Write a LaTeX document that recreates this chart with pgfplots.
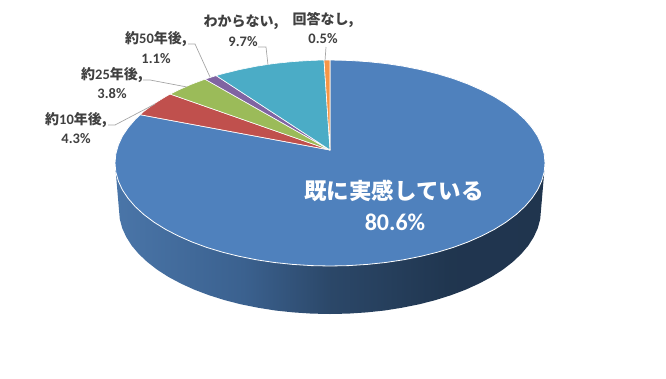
\documentclass[border=0pt]{standalone}
\usepackage{fontspec}
\usepackage{pgfplots}
\pgfplotsset{compat=1.18}
\setmainfont{Carlito}
\newfontfamily\cjk{Noto Sans CJK JP}
\definecolor{txt}{HTML}{404040}
\definecolor{lead}{HTML}{A6A6A6}
\pgfdeclarehorizontalshading{sidewall}{100bp}{
  rgb(0bp)=(0.29,0.46,0.66);
  rgb(25bp)=(0.29,0.46,0.66);
  rgb(40bp)=(0.23,0.38,0.56);
  rgb(50bp)=(0.17,0.28,0.41);
  rgb(64bp)=(0.125,0.21,0.31);
  rgb(100bp)=(0.12,0.2,0.3)}
\newcommand{\lbl}[1]{{\fontsize{14}{15}\selectfont\bfseries\cjk #1}}
\newcommand{\dig}[1]{{\fontsize{14.5}{15}\selectfont\bfseries #1}}
\begin{document}
\begin{tikzpicture}
\path[use as bounding box] (0,0) rectangle (666pt,378pt);
\begin{axis}[
  at={(0,0)},anchor=south west,
  width=666pt,height=378pt,scale only axis,hide axis,
  xmin=0,xmax=666,ymin=0,ymax=378,y dir=reverse,clip=false,
  no markers]
% side wall
\addplot[shade,shading=sidewall,draw=none] coordinates {
 (545,163)(541,210)(540.2,219.1)(537.8,228.1)(533.8,236.9)(528.3,245.6)(521.2,254)(512.7,262)(502.8,269.7)(491.6,276.9)(479.2,283.5)(465.6,289.7)(451,295.2)(435.5,300.1)(419.2,304.3)(402.2,307.7)(384.6,310.5)(366.6,312.4)(348.4,313.6)(330,314)
 (311.6,313.6)(293.4,312.4)(275.4,310.5)(257.8,307.7)(240.8,304.3)(224.5,300.1)(209,295.2)(194.4,289.7)(180.8,283.5)(168.4,276.9)(157.2,269.7)(147.3,262)(138.8,254)(131.7,245.6)(126.2,236.9)(122.2,228.1)(119.8,219.1)(119,210)(115,163)
} -- cycle;
% main slice
\addplot[fill={rgb,255:red,79;green,129;blue,189},draw=white,line width=0.8pt] coordinates {
 (330,150)(330,60)(348.7,60.4)(367.3,61.6)(385.6,63.5)(403.5,66.2)(420.9,69.7)(437.5,73.8)(453.3,78.6)(468.2,84.1)(482,90.2)(494.7,96.8)(506.1,103.9)(516.2,111.5)(524.9,119.5)(532,127.8)(537.7,136.3)(541.7,145.1)(544.2,154)(545,163)
 (544.2,172)(541.7,180.9)(537.7,189.7)(532,198.2)(524.9,206.5)(516.2,214.5)(506.1,222.1)(494.7,229.2)(482,235.8)(468.2,241.9)(453.3,247.4)(437.5,252.2)(420.9,256.3)(403.5,259.8)(385.6,262.5)(367.3,264.4)(348.7,265.6)(330,266)
 (311.3,265.6)(292.7,264.4)(274.4,262.5)(256.5,259.8)(239.1,256.3)(222.5,252.2)(206.7,247.4)(191.8,241.9)(178,235.8)(165.3,229.2)(153.9,222.1)(143.8,214.5)(135.1,206.5)(128,198.2)(122.3,189.7)(118.3,180.9)(115.8,172)(115,163)
 (115.8,154)(118.3,145.1)(122.3,136.3)(128,127.8)(135.1,119.5)(140.2,114.7)
} -- cycle;
% small slices
\addplot[fill={rgb,255:red,192;green,80;blue,77},draw=white,line width=0.6pt] coordinates {
 (330,150)(140.2,114.7)(143.8,111.5)(153.9,103.9)(165.3,96.8)(170.2,94.1)} -- cycle;
\addplot[fill={rgb,255:red,155;green,187;blue,89},draw=white,line width=0.6pt] coordinates {
 (330,150)(170.2,94.1)(178,90.2)(191.8,84.1)(205,79.2)} -- cycle;
\addplot[fill={rgb,255:red,128;green,100;blue,162},draw=white,line width=0.6pt] coordinates {
 (330,150)(205,79.2)(216.1,75.6)} -- cycle;
\addplot[fill={rgb,255:red,75;green,172;blue,198},draw=white,line width=0.6pt] coordinates {
 (330,150)(216.1,75.6)(222.5,73.8)(239.1,69.7)(256.5,66.2)(274.4,63.5)(292.7,61.6)(311.3,60.4)(324,60)} -- cycle;
\addplot[fill={rgb,255:red,247;green,150;blue,70},draw=white,line width=0.6pt] coordinates {
 (330,150)(324,60)(330,60)} -- cycle;
% leaders
\addplot[lead,line width=0.7pt] coordinates {(108,125)(115,125)(155,104)};
\addplot[lead,line width=0.7pt] coordinates {(143,80)(150,80)(187,87)};
\addplot[lead,line width=0.7pt] coordinates {(188,44)(195,44)(210,77)};
\addplot[lead,line width=0.7pt] coordinates {(258,47)(266,47)(268,65)};
\addplot[lead,line width=0.7pt] coordinates {(326,47)(325,61)};
% labels
\node[text=txt,inner sep=0pt] at (axis cs:76,120) {\lbl{約}\dig{10}\lbl{年後,}};
\node[text=txt,inner sep=0pt] at (axis cs:76,139) {\dig{4.3\%}};
\node[text=txt,inner sep=0pt] at (axis cs:112,75) {\lbl{約}\dig{25}\lbl{年後,}};
\node[text=txt,inner sep=0pt] at (axis cs:112,94) {\dig{3.8\%}};
\node[text=txt,inner sep=0pt] at (axis cs:156,39) {\lbl{約}\dig{50}\lbl{年後,}};
\node[text=txt,inner sep=0pt] at (axis cs:156,59) {\dig{1.1\%}};
\node[text=txt,inner sep=0pt] at (axis cs:241,22) {\lbl{わからない,}};
\node[text=txt,inner sep=0pt] at (axis cs:243,42) {\dig{9.7\%}};
\node[text=txt,inner sep=0pt] at (axis cs:323,20) {\lbl{回答なし,}};
\node[text=txt,inner sep=0pt] at (axis cs:323,39) {\dig{0.5\%}};
\node[text=white,inner sep=0pt] at (axis cs:394,191) {{\fontsize{22.5}{24}\selectfont\bfseries\cjk 既に実感している}};
\node[text=white,inner sep=0pt] at (axis cs:395,222) {{\fontsize{24}{26}\selectfont\bfseries 80.6\%}};
\end{axis}
\end{tikzpicture}
\end{document}
